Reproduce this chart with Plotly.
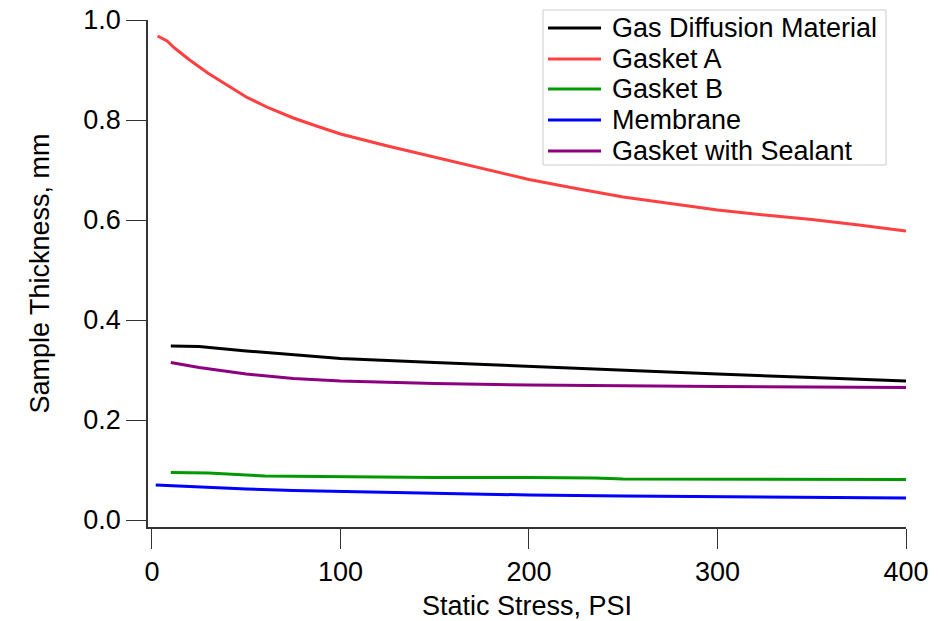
import plotly.graph_objects as go

# Data
gdm_x = [10, 25, 50, 75, 100, 150, 200, 250, 300, 350, 400]
gdm_y = [0.348, 0.347, 0.338, 0.330, 0.323, 0.315, 0.307, 0.300, 0.292, 0.285, 0.278]

ga_x = [3, 8, 12, 20, 30, 40, 50, 62, 75, 88, 100, 125, 150, 175, 200, 225, 250, 275, 300, 325, 350, 375, 400]
ga_y = [0.968, 0.958, 0.944, 0.920, 0.893, 0.869, 0.846, 0.824, 0.804, 0.787, 0.772, 0.748, 0.726, 0.703, 0.681, 0.663, 0.646, 0.633, 0.620, 0.610, 0.601, 0.590, 0.578]

gb_x = [10, 30, 60, 100, 150, 200, 235, 250, 300, 350, 400]
gb_y = [0.095, 0.094, 0.088, 0.086, 0.085, 0.085, 0.084, 0.082, 0.082, 0.081, 0.081]

mem_x = [2, 25, 50, 75, 100, 150, 200, 250, 300, 350, 400]
mem_y = [0.070, 0.066, 0.062, 0.059, 0.057, 0.053, 0.050, 0.048, 0.047, 0.045, 0.044]

gs_x = [10, 25, 50, 75, 100, 150, 200, 250, 300, 350, 400]
gs_y = [0.315, 0.305, 0.292, 0.283, 0.278, 0.273, 0.270, 0.268, 0.267, 0.266, 0.265]

series_names = ["Gas Diffusion Material", "Gasket A", "Gasket B", "Membrane", "Gasket with Sealant"]
series_x = [gdm_x, ga_x, gb_x, mem_x, gs_x]
series_y = [gdm_y, ga_y, gb_y, mem_y, gs_y]
series_colors = ["#000000", "#ff4040", "#009a00", "#0000ff", "#8c0080"]

FONT = "Liberation Sans, Arial, sans-serif"

# plot area geometry (pixels)
W, H = 938, 621
L, R, T, B = 148, 32, 20, 94
PW, PH = W - L - R, H - T - B


def px_x(p):
    return (p - L) / PW


def px_y(p):
    return (H - B - p) / PH


fig = go.Figure()
for name, xs, ys, col in zip(series_names, series_x, series_y, series_colors):
    fig.add_trace(go.Scatter(x=xs, y=ys, mode="lines", name=name,
                             line=dict(color=col, width=3), showlegend=False))

axis_common = dict(
    showgrid=False, zeroline=False, showline=True, linecolor="#333333", linewidth=1.5,
    ticks="outside", ticklen=20, tickwidth=1.2, tickcolor="#333333",
    tickfont=dict(family=FONT, size=27, color="#000"),
)

# legend drawn as box + line samples + text
shapes = [dict(type="rect", xref="paper", yref="paper",
               x0=px_x(543), x1=px_x(886), y0=px_y(165), y1=px_y(10),
               line=dict(color="#cccccc", width=1), fillcolor="white", layer="above")]
annotations = []
row_y = [28, 59, 89, 120, 151]
for name, col, ry in zip(series_names, series_colors, row_y):
    shapes.append(dict(type="line", xref="paper", yref="paper",
                       x0=px_x(548), x1=px_x(601), y0=px_y(ry), y1=px_y(ry),
                       line=dict(color=col, width=3), layer="above"))
    annotations.append(dict(xref="paper", yref="paper", x=px_x(610), y=px_y(ry),
                            xanchor="left", yanchor="middle", text=name, showarrow=False,
                            font=dict(family=FONT, size=27, color="#000")))

fig.update_layout(
    width=W, height=H,
    margin=dict(l=L, r=R, t=T, b=B),
    paper_bgcolor="white", plot_bgcolor="white",
    font=dict(family=FONT, color="#000"),
    xaxis=dict(range=[-2.1, 400], tickvals=[0, 100, 200, 300, 400],
               title=dict(text="Static Stress, PSI", font=dict(family=FONT, size=27), standoff=12),
               automargin=False, **axis_common),
    yaxis=dict(range=[-0.014, 1.0], tickvals=[0, 0.2, 0.4, 0.6, 0.8, 1.0], tickformat=".1f",
               title=dict(text="Sample Thickness, mm", font=dict(family=FONT, size=27), standoff=26),
               automargin=False, **axis_common),
    shapes=shapes,
    annotations=annotations,
    showlegend=False,
)

fig.write_html("out.html")
